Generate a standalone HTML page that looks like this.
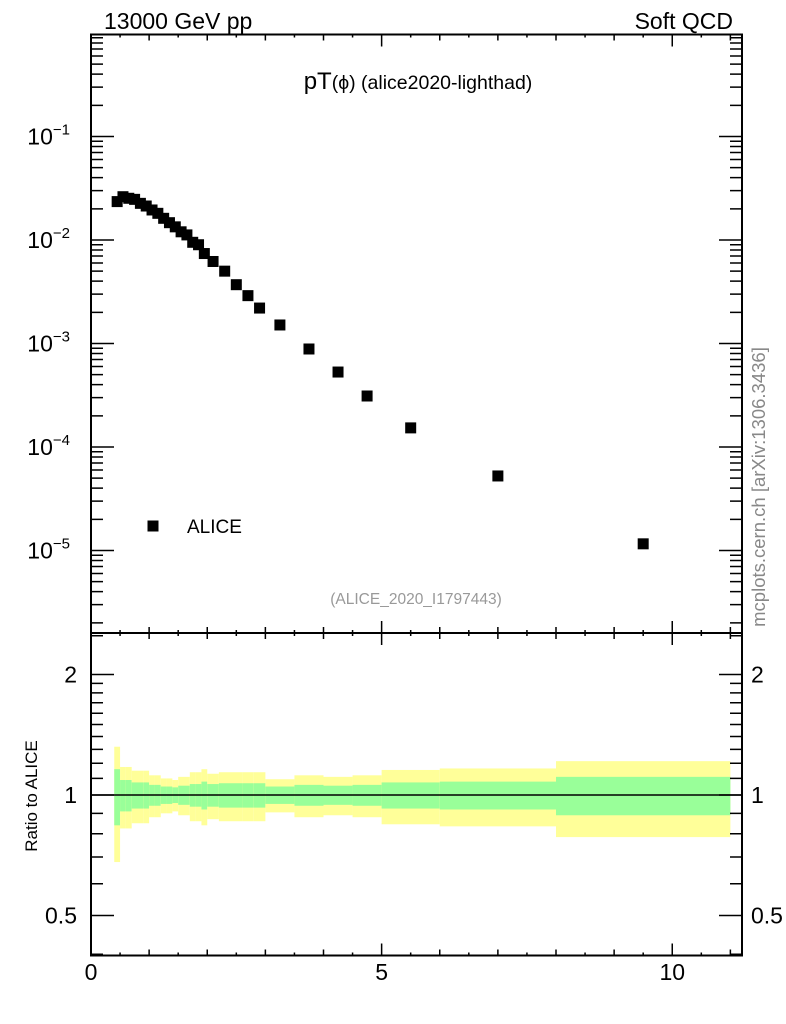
<!DOCTYPE html>
<html><head><meta charset="utf-8"><style>
body{margin:0;background:#fff;}
svg{display:block;font-family:"Liberation Sans",sans-serif;}
</style></head><body>
<svg id="c" width="786" height="1024" viewBox="0 0 786 1024">
<text x="104" y="29" font-size="23">13000 GeV pp</text>
<text x="733" y="29" font-size="23" text-anchor="end">Soft QCD</text>
<text x="418" y="89" text-anchor="middle"><tspan font-size="24">pT</tspan><tspan font-size="19.5">(ϕ) (alice2020-lighthad)</tspan></text>
<text x="416" y="604" text-anchor="middle" font-size="15.5" fill="#999">(ALICE_2020_I1797443)</text>
<text transform="translate(765,487) rotate(-90)" text-anchor="middle" font-size="18.5" fill="#888">mcplots.cern.ch [arXiv:1306.3436]</text>
<text transform="translate(37,796) rotate(-90)" text-anchor="middle" font-size="17">Ratio to ALICE</text>
<rect x="147.5" y="520.5" width="11" height="11" fill="#000"/>
<text x="187" y="533" font-size="19">ALICE</text>
<g id="bands"></g><g id="pts"></g><g id="ax"></g>
</svg>
<script>
const binLo = [0.4,0.5,0.6,0.7,0.8,0.9,1.0,1.1,1.2,1.3,1.4,1.5,1.6,1.7,1.8,1.9,2.0,2.2,2.4,2.6,2.8,3.0,3.5,4.0,4.5,5.0,6.0,8.0];
const binHi = [0.5,0.6,0.7,0.8,0.9,1.0,1.1,1.2,1.3,1.4,1.5,1.6,1.7,1.8,1.9,2.0,2.2,2.4,2.6,2.8,3.0,3.5,4.0,4.5,5.0,6.0,8.0,11.0];
const yields = [0.0235,0.0262,0.0253,0.0247,0.0226,0.0213,0.0195,0.0181,0.0162,0.0147,0.0134,0.0120,0.0112,0.0095,0.0090,0.0074,0.0062,0.0050,0.0037,0.0029,0.0022,0.00151,0.000885,0.00053,0.000311,0.000153,0.0000525,0.0000116];
const totErr = [0.32,0.175,0.175,0.15,0.15,0.15,0.12,0.12,0.10,0.10,0.09,0.11,0.11,0.14,0.14,0.16,0.13,0.14,0.14,0.14,0.14,0.095,0.12,0.11,0.12,0.155,0.165,0.215];
const statErr = [0.16,0.09,0.09,0.075,0.075,0.075,0.06,0.06,0.05,0.05,0.045,0.055,0.055,0.065,0.065,0.08,0.065,0.07,0.07,0.07,0.07,0.05,0.06,0.055,0.06,0.075,0.08,0.11];
const xTickLabels = ["0","5","10"];
const mainTickLabels = ["1","2","3","4","5"];
const ratioTickLabels = ["0.5","1","2"];

const NS="http://www.w3.org/2000/svg";
const L=91,R=742,T=34.5,MB=633,B=955.5;
const X=v=>L+v*(R-L)/11.2;
const Y=v=>136.5-103.5*(Math.log10(v)+1);
const RY=v=>795-120.5*Math.log2(v);
function mk(tag,at,parent){const e=document.createElementNS(NS,tag);for(const k in at)e.setAttribute(k,at[k]);parent.appendChild(e);return e;}
const bands=document.getElementById('bands'),pts=document.getElementById('pts'),ax=document.getElementById('ax');
for(let i=0;i<binLo.length;i++){
  const x0=X(binLo[i]),x1=X(binHi[i]);
  const yb=mk('rect',{x:x0,y:RY(1+totErr[i]),width:x1-x0,height:RY(1-totErr[i])-RY(1+totErr[i]),fill:'#ffff99'},bands);
  
  
  const gb=mk('rect',{x:x0,y:RY(1+statErr[i]),width:x1-x0,height:RY(1-statErr[i])-RY(1+statErr[i]),fill:'#99ff99'},bands);
  
  
  const xc=X((binLo[i]+binHi[i])/2),yc=Y(yields[i]);
  const p=mk('rect',{x:xc-5.5,y:yc-5.5,width:11,height:11,fill:'#000'},pts);
  
  
}
mk('line',{x1:L,x2:R,y1:RY(1),y2:RY(1),stroke:'#000','stroke-width':1.5},bands);
mk('rect',{x:L,y:T,width:R-L,height:MB-T,fill:'none',stroke:'#000','stroke-width':2},ax);
mk('rect',{x:L,y:MB,width:R-L,height:B-MB,fill:'none',stroke:'#000','stroke-width':2},ax);
let d='';
for(let k=0;k<=22;k++){const v=k*0.5,x=X(v);let len=k%10==0?12:(k%2==0?6:3);
  d+=`M${x},${T}v${len}M${x},${MB}v${-len}M${x},${MB}v${len}M${x},${B}v${-len}`;}
for(let e=-6;e<=0;e++)for(let m=1;m<10;m++){const v=m*Math.pow(10,e),y=Y(v);if(y<T||y>MB)continue;const len=m==1?23:12;
  d+=`M${L},${y}h${len}M${R},${y}h${-len}`;}
const rt=[0.4,0.5,0.6,0.7,0.8,0.9,1,1.1,1.2,1.3,1.4,1.5,1.6,1.7,1.8,1.9,2,2.5];
rt.forEach(v=>{const y=RY(v);if(y<MB||y>B)return;const len=(v==0.5||v==1||v==2)?23:12;d+=`M${L},${y}h${len}M${R},${y}h${-len}`;});
mk('path',{d:d,stroke:'#000','stroke-width':1.5,fill:'none'},ax);
[0,5,10].forEach((v,i)=>{const t=mk('text',{x:X(v),y:980,'font-size':23,'text-anchor':'middle'},ax);t.textContent=xTickLabels[i];
  
  });
[-1,-2,-3,-4,-5].forEach((e,i)=>{const t=mk('text',{x:70,y:Y(Math.pow(10,e))+8,'font-size':23,'text-anchor':'end'},ax);
  t.innerHTML='10<tspan font-size="15" dy="-10">−'+mainTickLabels[i]+'</tspan>';
  
  });
[0.5,1,2].forEach((v,i)=>{[[77,'end'],[751,'start']].forEach(([x,a])=>{const t=mk('text',{x:x,y:RY(v)+8,'font-size':23,'text-anchor':a},ax);t.textContent=ratioTickLabels[i];
  
  });});
</script>
</body></html>
